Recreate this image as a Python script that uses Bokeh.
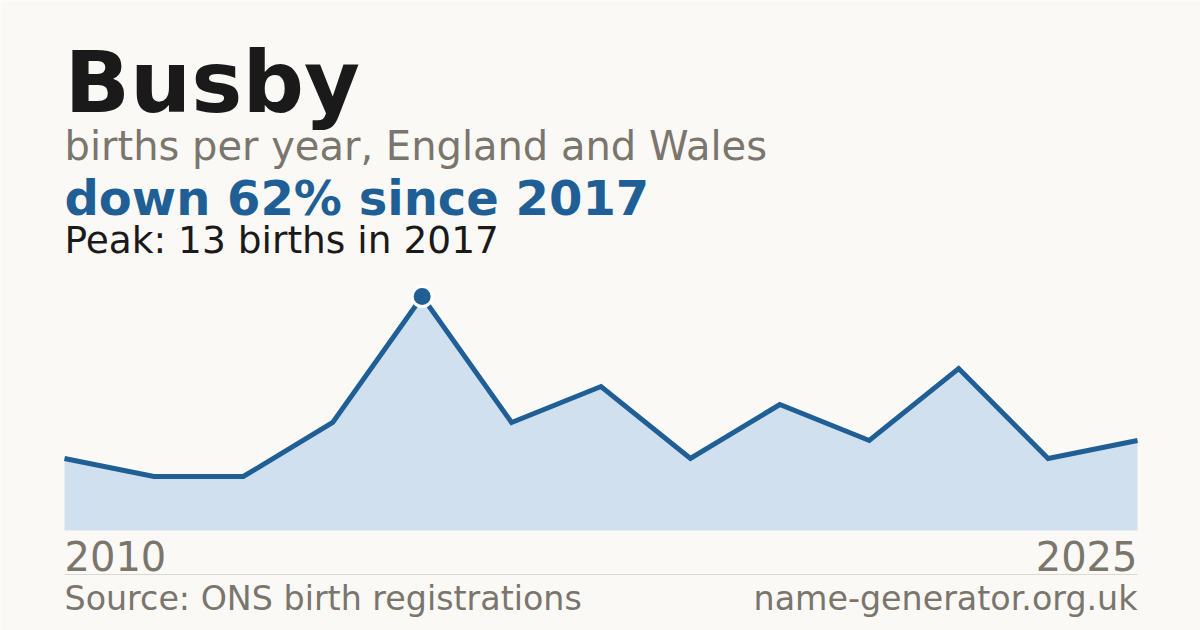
from bokeh.plotting import figure
from bokeh.models import Range1d, Label, ColumnDataSource
from bokeh.embed import file_html
from bokeh.resources import INLINE

# ---- data ----
name = "Busby"
births = [4, 3, 3, 6, 13, 6, 8, 4, 7, 5, 9, 4, 5]
peak_year = 2017
tick_labels = ["2010", "2025"]

# ---- layout constants (pixels) ----
W, H = 1200, 630
LEFT, RIGHT = 64, 1137
BASE = 530          # baseline of area (px from top)
PX_PER_BIRTH = 18.0
BG = "#faf9f5"
BLUE = "#1f5f96"
FILL = "#d0e0ef"
GREY = "#7a756d"
DARK = "#1a1a1a"
FONT = "DejaVu Sans"
BASELINE_SHIFT = 0.36   # empirical correction for alphabetic baseline

n = len(births)
xs = list(range(n))
dx = (RIGHT - LEFT) / (n - 1)

x_range = Range1d(-LEFT / dx, (n - 1) + (W - RIGHT) / dx)
y_range = Range1d(-(H - BASE) / PX_PER_BIRTH, BASE / PX_PER_BIRTH)

p = figure(width=W, height=H, x_range=x_range, y_range=y_range,
           output_backend="svg", toolbar_location=None, title=None,
           x_axis_type=None, y_axis_type=None, min_border=0)
p.outline_line_color = None
p.background_fill_color = BG
p.border_fill_color = BG
p.xgrid.visible = False
p.ygrid.visible = False

src = ColumnDataSource(dict(x=xs, y=births, y0=[0] * n))
p.varea(x="x", y1="y0", y2="y", source=src, fill_color=FILL, fill_alpha=1.0)
p.line(x="x", y="y", source=src, line_color=BLUE, line_width=5, line_join="miter")

pk = births.index(max(births))
p.scatter(x=[pk], y=[births[pk]], size=20, marker="circle",
          fill_color=BLUE, line_color="white", line_width=3)

# separator line under year labels
y_sep = -(574 - BASE) / PX_PER_BIRTH
p.segment(x0=[0], y0=[y_sep], x1=[n - 1], y1=[y_sep], line_color="#ddd8cf", line_width=1)

peak_val = max(births)
last_val = births[-1]
pct = round((peak_val - last_val) / peak_val * 100)

def lab(text, x, y_base, size, color, style="normal", align="left", x_units="screen"):
    p.add_layout(Label(x=x, y=H - y_base + BASELINE_SHIFT * size, x_units=x_units, y_units="screen",
                       text=text, text_font=FONT, text_font_size=f"{size}px", text_font_style=style,
                       text_color=color, text_align=align, text_baseline="alphabetic"))

lab(name, LEFT, 112, 86, DARK, "bold")
lab("births per year, England and Wales", LEFT, 160, 40, GREY)
lab(f"down {pct}% since {peak_year}", LEFT, 215, 48, BLUE, "bold")
lab(f"Peak: {peak_val} births in {peak_year}", LEFT, 253, 37.5, DARK)

lab(tick_labels[0], 0, 570, 40, GREY, x_units="data")
lab(tick_labels[1], n - 1, 570, 40, GREY, align="right", x_units="data")

lab("Source: ONS birth registrations", LEFT, 610, 33.3, GREY)
lab("name-generator.org.uk", RIGHT, 610, 33.3, GREY, align="right")

html = file_html(p, INLINE)
html = html.replace("<body>", f'<body style="margin:0;background:{BG};overflow:hidden;">', 1)
open("out.html", "w").write(html)
